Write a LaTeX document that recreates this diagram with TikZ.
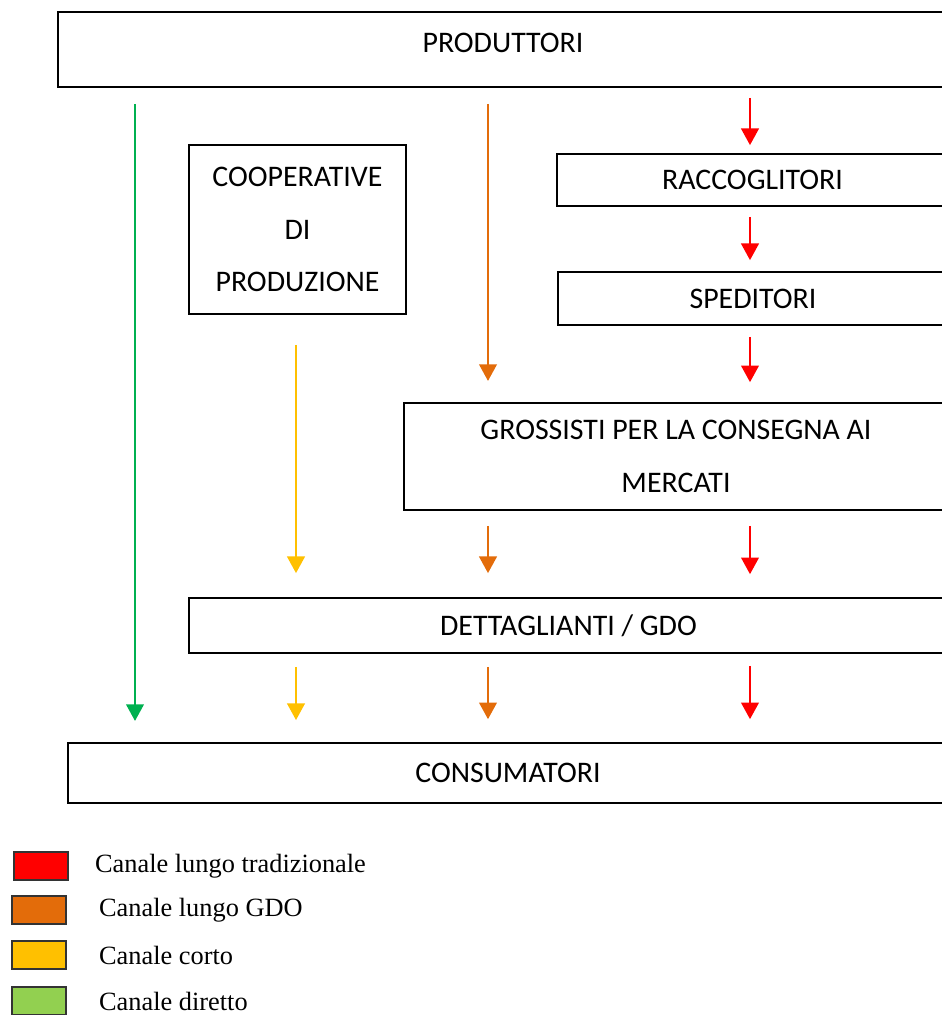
\documentclass[tikz,border=0pt]{standalone}
\usepackage{fontspec}
\setmainfont{Carlito}
\newfontfamily\legendfont{Liberation Serif}
\usepackage{tikz}
\usetikzlibrary{arrows.meta, positioning}
\definecolor{chanred}{RGB}{255, 0, 0}
\definecolor{chanorange}{RGB}{227, 108, 10}
\definecolor{chanyellow}{RGB}{255, 192, 0}
\definecolor{changreen}{RGB}{0, 176, 80}
\definecolor{keygreen}{RGB}{146, 208, 80}

\begin{document}
\begin{tikzpicture}[
  x=0.02cm, y=-0.02cm,
  box/.style={rectangle, draw, line width=1.1pt, inner sep=0pt,
              align=center, font=\fontsize{17}{30}\selectfont},
  arrow/.style={-{Triangle[width=10pt, length=9.5pt]}, line width=1.4pt,
                shorten <=7.4pt, shorten >=12.5pt},
  keybox/.style={rectangle, draw=black!80, line width=0.9pt,
                 minimum width=1.08cm, minimum height=0.56cm, inner sep=0pt},
  keytext/.style={inner sep=0pt, anchor=west, font=\legendfont\fontsize{15}{18}\selectfont}
]
\useasboundingbox (0,0) rectangle (941,1015);

% boxes
\node[box, minimum width=17.8cm, minimum height=1.5cm, text depth=7.4pt]
  (prod) at (503,49.5) {PRODUTTORI};
\node[box, minimum width=4.34cm, minimum height=3.38cm]
  (coop) at (297.5,229.5) {COOPERATIVE\\DI\\PRODUZIONE};
\node[box, minimum width=7.82cm, minimum height=1.04cm]
  (racc) at (752.5,180) {\raisebox{-1.5pt}{RACCOGLITORI}};
\node[box, minimum width=7.8cm, minimum height=1.06cm]
  (sped) at (753,298.5) {\raisebox{-1.5pt}{SPEDITORI}};
\node[box, minimum width=10.88cm, minimum height=2.14cm]
  (gross) at (676,456.5) {GROSSISTI PER LA CONSEGNA AI\\MERCATI};
\node[box, minimum width=15.18cm, minimum height=1.1cm]
  (dett) at (568.5,625.5) {\raisebox{-1.5pt}{DETTAGLIANTI / GDO}};
\node[box, minimum width=17.6cm, minimum height=1.2cm]
  (cons) at (508,773) {CONSUMATORI};

% channel columns
\coordinate (colG) at (135,0);
\coordinate (colY) at (296,0);
\coordinate (colO) at (488,0);
\coordinate (colR) at (750,0);

% canale diretto
\draw[arrow, changreen, shorten <=9pt, shorten >=12pt] (prod.south -| colG) -- (cons.north -| colG);

% canale corto
\draw[arrow, chanyellow, shorten <=17pt, shorten >=13.6pt] (coop.south -| colY) -- (dett.north -| colY);
\draw[arrow, chanyellow] (dett.south -| colY) -- (cons.north -| colY);

% canale lungo GDO
\draw[arrow, chanorange, shorten <=9pt, shorten >=12pt] (prod.south -| colO) -- (gross.north -| colO);
\draw[arrow, chanorange, shorten <=8.5pt, shorten >=13.6pt] (gross.south -| colO) -- (dett.north -| colO);
\draw[arrow, chanorange, shorten >=13pt] (dett.south -| colO) -- (cons.north -| colO);

% canale lungo tradizionale
\draw[arrow, chanred, shorten <=5.7pt, shorten >=4.5pt] (prod.south -| colR) -- (racc.north -| colR);
\draw[arrow, chanred, shorten <=5.7pt, shorten >=6.2pt] (racc.south -| colR) -- (sped.north -| colR);
\draw[arrow, chanred, shorten <=6.2pt, shorten >=11.3pt] (sped.south -| colR) -- (gross.north -| colR);
\draw[arrow, chanred, shorten <=8.5pt, shorten >=13pt] (gross.south -| colR) -- (dett.north -| colR);
\draw[arrow, chanred, shorten <=6.8pt, shorten >=13pt] (dett.south -| colR) -- (cons.north -| colR);

% legend
\node[keybox, fill=chanred] (keyR) at (41,866) {};
\node[keybox, fill=chanorange] (keyO) at (39,910) {};
\node[keybox, fill=chanyellow] (keyY) at (39,955) {};
\node[keybox, fill=keygreen] (keyG) at (39,1001) {};
\node[keytext, right=0.52cm of keyR] (ltrad) {Canale lungo tradizionale};
\node[keytext, right=0.64cm of keyO] (lgdo) {Canale lungo GDO};
\node[keytext, right=0.64cm of keyY] (lcorto) {Canale corto};
\node[keytext, right=0.64cm of keyG] (ldir) {Canale diretto};

\end{tikzpicture}
\end{document}
